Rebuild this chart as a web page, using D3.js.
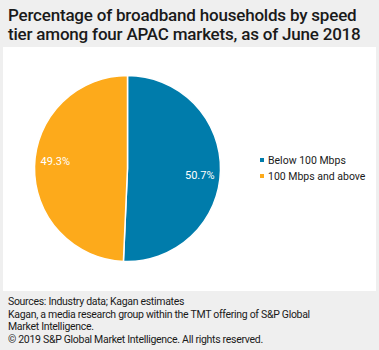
<!DOCTYPE html>
<html>
<head>
<meta charset="utf-8">
<script src="https://cdn.jsdelivr.net/npm/d3@7"></script>
<style>
  html, body { margin: 0; padding: 0; background: #efefef; }
  svg { display: block; }
  text { font-family: Roboto, "Liberation Sans", Arial, sans-serif; }
</style>
</head>
<body>
<svg id="chart" width="379" height="350"></svg>
<script>
const titleLines = ["Percentage of broadband households by speed", "tier among four APAC markets, as of June 2018"];
const categories = ["Below 100 Mbps", "100 Mbps and above"];
const values = [50.7, 49.3];
const colors = ["#007cab", "#fdaa1b"];
const footerLines = [
  "Sources: Industry data; Kagan estimates",
  "Kagan, a media research group within the TMT offering of S&P Global",
  "Market Intelligence.",
  "\u00a9 2019 S&P Global Market Intelligence. All rights reserved."
];

const svg = d3.select("#chart");
const W = 379, H = 350;

svg.append("rect").attr("width", W).attr("height", H).attr("fill", "#efefef");
svg.append("rect").attr("x", 3).attr("y", 47).attr("width", 373).attr("height", 244).attr("fill", "#ffffff");

svg.append("g").selectAll("text").data(titleLines).join("text")
  .attr("x", 8).attr("y", (d, i) => 21 + i * 18.5)
  .attr("font-size", 17).attr("font-weight", 500).attr("fill", "#1a1a1a")
  .attr("letter-spacing", -0.2)
  .text(d => d);

const cx = 127.5, cy = 168.5, r = 93;
const pie = d3.pie().sort(null).value(d => d.v);
const data = pie(categories.map((c, i) => ({ c, v: values[i], color: colors[i] })));
const arc = d3.arc().innerRadius(0).outerRadius(r);

const g = svg.append("g").attr("transform", `translate(${cx},${cy})`);
g.selectAll("path").data(data).join("path")
  .attr("d", arc).attr("fill", d => d.data.color)
  .attr("stroke", "#ffffff").attr("stroke-width", 1.5).attr("stroke-linejoin", "round");

g.selectAll("text").data(data).join("text")
  .attr("transform", d => `translate(${d3.pointRadial((d.startAngle + d.endAngle) / 2 + 0.07, r * 0.78)})`)
  .attr("text-anchor", "middle").attr("dominant-baseline", "central")
  .attr("font-size", 11).attr("fill", "#ffffff")
  .text(d => d3.format(".1f")(d.data.v) + "%");

const legend = svg.append("g").attr("transform", "translate(260,160)");
const li = legend.selectAll("g").data(categories).join("g")
  .attr("transform", (d, i) => `translate(0,${i * 16})`);
li.append("rect").attr("x", 0).attr("y", -2).attr("width", 4).attr("height", 4)
  .attr("fill", (d, i) => colors[i]);
li.append("text").attr("x", 8).attr("y", 0).attr("dominant-baseline", "central")
  .attr("font-size", 10.5).attr("fill", "#1a1a1a").text(d => d);

svg.append("g").selectAll("text").data(footerLines).join("text")
  .attr("x", 8).attr("y", (d, i) => 305 + i * 12.5)
  .attr("font-size", 10.5).attr("fill", "#1a1a1a").attr("letter-spacing", -0.3)
  .text(d => d);
</script>
</body>
</html>
